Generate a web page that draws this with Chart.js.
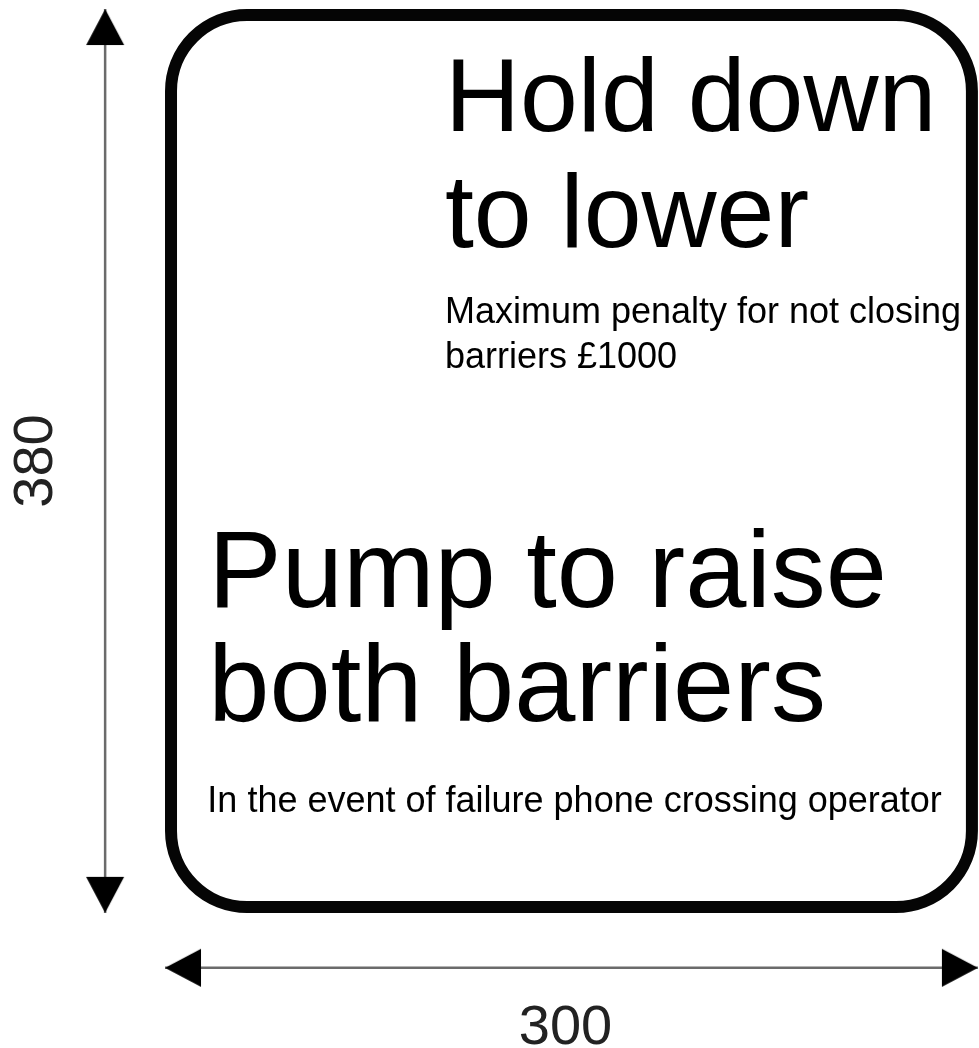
<!DOCTYPE html>
<html lang="en">
<head>
<meta charset="utf-8">
<title>Barrier sign – 300 x 380</title>
<script src="https://cdn.jsdelivr.net/npm/chart.js@4.4.1/dist/chart.umd.min.js"></script>
<style>
    html, body { margin: 0; padding: 0; background: #fff; }
    .sign-wrap { width: 979px; height: 1048px; position: relative; }
</style>
</head>
<body>
<div class="sign-wrap"><canvas id="signChart"></canvas></div>
<script>
// sign size in mm (width, height) and their dimension labels
const signDimensions = [300, 380];
const dimensionLabels = ['300', '380'];

// panel wording
const upperHeadline = ['Hold down', 'to lower'];
const upperNote = ['Maximum penalty for not closing', 'barriers £1000'];
const lowerHeadline = ['Pump to raise', 'both barriers'];
const lowerNote = ['In the event of failure phone crossing operator'];

// layout, in sign units (mm) unless noted
const layout = {
    xRange: [-60.9, 300.4],
    yRange: [-3.8, 436.8],
    borderPx: 12,
    cornerPx: 76,
    widthArrowY: 403.1,
    heightArrowX: -22.1,
    heightLabelX: -48.0,
    widthLabelY: 435.1,
    upperX: 103.3,
    upperHeadY: 51.3,
    upperNoteY: 132.0,
    lowerX: 16.0,
    lowerHeadY: 251.6,
    lowerNoteY: 337.6
};

const FONT = '"Liberation Sans", Arial, Helvetica, sans-serif';

document.addEventListener('DOMContentLoaded', () => {
    renderSign();
});

function makeArrowHead() {
    // tip sits at the canvas centre so the point lands on the arrow end
    const c = document.createElement('canvas');
    c.width = 40;
    c.height = 76;
    const g = c.getContext('2d');
    g.fillStyle = '#000';
    g.beginPath();
    g.moveTo(20, 38);
    g.lineTo(39, 74);
    g.lineTo(1, 74);
    g.closePath();
    g.fill();
    return c;
}

function drawLines(ctx, lines, x, y, size, gap) {
    ctx.font = `${size}px ${FONT}`;
    lines.forEach((line, i) => {
        ctx.fillText(line, x, y + i * gap);
    });
}

const signPlugin = {
    id: 'signPlugin',
    beforeDraw(chart) {
        const { ctx, width, height } = chart;
        ctx.save();
        ctx.fillStyle = '#fff';
        ctx.fillRect(0, 0, width, height);
        ctx.restore();
    },
    beforeDatasetsDraw(chart) {
        const { ctx, scales: { x, y } } = chart;
        const [w, h] = signDimensions;
        const half = layout.borderPx / 2;
        const left = x.getPixelForValue(0) + half;
        const right = x.getPixelForValue(w) - half;
        const top = y.getPixelForValue(0) + half;
        const bottom = y.getPixelForValue(h) - half;

        ctx.save();
        ctx.strokeStyle = '#050505';
        ctx.lineWidth = layout.borderPx;
        ctx.beginPath();
        ctx.roundRect(left, top, right - left, bottom - top, layout.cornerPx);
        ctx.stroke();
        ctx.restore();
    },
    afterDatasetsDraw(chart) {
        const { ctx, scales: { x, y } } = chart;
        const [w, h] = signDimensions;

        ctx.save();
        ctx.fillStyle = '#000';
        ctx.textBaseline = 'alphabetic';
        ctx.textAlign = 'left';

        const ux = x.getPixelForValue(layout.upperX);
        drawLines(ctx, upperHeadline, ux, y.getPixelForValue(layout.upperHeadY), 104, 116);
        drawLines(ctx, upperNote, ux, y.getPixelForValue(layout.upperNoteY), 36, 45);

        const lx = x.getPixelForValue(layout.lowerX);
        drawLines(ctx, lowerHeadline, lx, y.getPixelForValue(layout.lowerHeadY), 110, 114);
        drawLines(ctx, lowerNote, lx - 1, y.getPixelForValue(layout.lowerNoteY), 36, 40);

        // dimension labels
        ctx.fillStyle = '#222';
        ctx.font = `56px ${FONT}`;
        ctx.textAlign = 'center';
        ctx.fillText(dimensionLabels[0], x.getPixelForValue(w / 2) - 6, y.getPixelForValue(layout.widthLabelY));

        ctx.translate(x.getPixelForValue(layout.heightLabelX), y.getPixelForValue(h / 2));
        ctx.rotate(-Math.PI / 2);
        ctx.textBaseline = 'middle';
        ctx.fillText(dimensionLabels[1], 0, 2);
        ctx.restore();
    }
};

function renderSign() {
    const canvas = document.getElementById('signChart');
    if (!canvas) {
        return;
    }

    const head = makeArrowHead();
    const [w, h] = signDimensions;

    const arrowStyle = {
        type: 'line',
        showLine: true,
        borderColor: '#6b6b6b',
        borderWidth: 2.5,
        pointStyle: head,
        pointRadius: 20,
        pointHoverRadius: 20,
        fill: false
    };

    new Chart(canvas, {
        type: 'scatter',
        data: {
            datasets: [
                {
                    ...arrowStyle,
                    label: 'width',
                    data: [{ x: 0, y: layout.widthArrowY }, { x: w, y: layout.widthArrowY }],
                    pointRotation: ctx => ctx.dataIndex === 0 ? 270 : 90
                },
                {
                    ...arrowStyle,
                    label: 'height',
                    data: [{ x: layout.heightArrowX, y: 0 }, { x: layout.heightArrowX, y: h }],
                    pointRotation: ctx => ctx.dataIndex === 0 ? 0 : 180
                }
            ]
        },
        options: {
            responsive: true,
            maintainAspectRatio: false,
            animation: false,
            events: [],
            layout: { padding: 0, autoPadding: false },
            plugins: {
                legend: { display: false },
                tooltip: { enabled: false }
            },
            scales: {
                x: { type: 'linear', min: layout.xRange[0], max: layout.xRange[1], display: false },
                y: { type: 'linear', min: layout.yRange[0], max: layout.yRange[1], reverse: true, display: false }
            }
        },
        plugins: [signPlugin]
    });
}
</script>
</body>
</html>
